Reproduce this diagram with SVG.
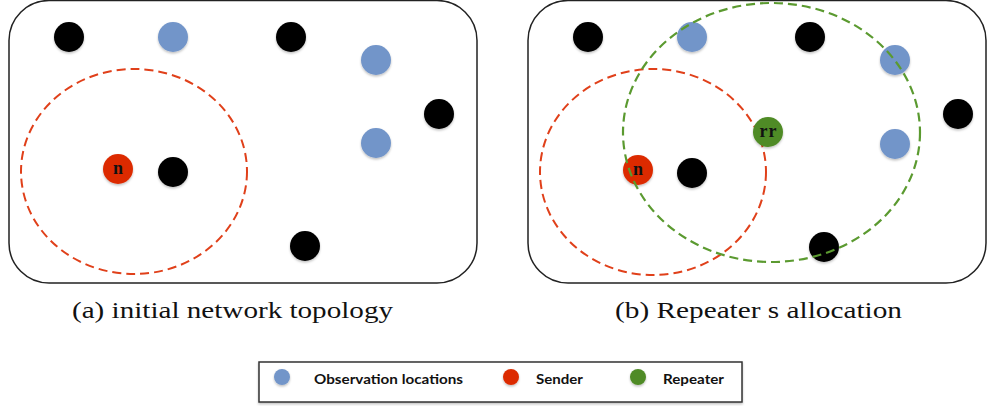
<svg xmlns="http://www.w3.org/2000/svg" width="987" height="406" viewBox="0 0 987 406">
  <defs>
    <filter id="soft" x="-30%" y="-30%" width="160%" height="170%">
      <feDropShadow dx="0" dy="1.5" stdDeviation="1" flood-color="#000" flood-opacity="0.25"/>
    </filter>
  </defs>
  <style>
    .panel { fill: #fff; stroke: #222; stroke-width: 1.5; }
    .black { fill: #000; }
    .obs { fill: #7295c9; }
    .sender { fill: #dc2c00; }
    .rep { fill: #4f8b25; }
    .dot { filter: url(#soft); }
    .range-red { fill: none; stroke: #e0401a; stroke-width: 2; stroke-dasharray: 9 5; }
    .range-green { fill: none; stroke: #5b9a30; stroke-width: 2.2; stroke-dasharray: 9 5; }
    .tag { font-family: "Liberation Serif", "DejaVu Serif", serif; font-weight: bold; font-size: 18px; fill: #111; text-anchor: middle; letter-spacing: 1px; }
    .caption { font-family: "Liberation Serif", "DejaVu Serif", serif; font-size: 24px; fill: #111; }
    .legend-box { fill: #fff; stroke: #333; stroke-width: 1.5; }
    .legend-text { font-family: "Lato", "Open Sans", "Liberation Sans", sans-serif; font-weight: bold; font-size: 14px; fill: #111; }
  </style>

  <!-- panel (a): initial network topology -->
  <g id="panel-a">
    <rect class="panel" x="9" y="0.5" width="468" height="282.5" rx="40" ry="40"/>
  </g>
  <!-- panel (b): repeater allocation -->
  <g id="panel-b">
    <rect class="panel" x="528" y="0.5" width="458" height="282.5" rx="40" ry="40"/>
  </g>

  <!-- sender radio ranges (drawn beneath the nodes) -->
  <g id="connectors">
    <ellipse class="range-red" cx="134" cy="171.5" rx="113" ry="102.5"/>
    <ellipse class="range-red" cx="653" cy="172" rx="113" ry="103"/>
  </g>

  <!-- nodes of panel (a) -->
  <g id="a-b1"><circle class="dot black" cx="69" cy="37" r="15"/></g>
  <g id="a-o1"><circle class="dot obs" cx="173" cy="37" r="15"/></g>
  <g id="a-b2"><circle class="dot black" cx="291" cy="37" r="15"/></g>
  <g id="a-o2"><circle class="dot obs" cx="376" cy="60" r="15"/></g>
  <g id="a-b3"><circle class="dot black" cx="439" cy="114" r="15"/></g>
  <g id="a-o3"><circle class="dot obs" cx="376" cy="143" r="15"/></g>
  <g id="a-sender"><circle class="dot sender" cx="118" cy="169" r="15"/><text class="tag" x="118.5" y="174">n</text></g>
  <g id="a-b4"><circle class="dot black" cx="173" cy="172" r="15"/></g>
  <g id="a-b5"><circle class="dot black" cx="305" cy="246" r="15"/></g>

  <!-- nodes of panel (b) -->
  <g id="b-b1"><circle class="dot black" cx="588" cy="37" r="15"/></g>
  <g id="b-o1"><circle class="dot obs" cx="692" cy="37" r="15"/></g>
  <g id="b-b2"><circle class="dot black" cx="810" cy="37" r="15"/></g>
  <g id="b-o2"><circle class="dot obs" cx="895" cy="60" r="15"/></g>
  <g id="b-b3"><circle class="dot black" cx="958" cy="114" r="15"/></g>
  <g id="b-o3"><circle class="dot obs" cx="895" cy="144" r="15"/></g>
  <g id="b-repeater"><circle class="dot rep" cx="768" cy="132" r="15"/><text class="tag" x="768.5" y="137">rr</text></g>
  <g id="b-sender"><circle class="dot sender" cx="638" cy="170" r="15"/><text class="tag" x="638.5" y="175">n</text></g>
  <g id="b-b4"><circle class="dot black" cx="692" cy="173" r="15"/></g>
  <g id="b-b5"><circle class="dot black" cx="824" cy="247" r="15"/></g>

  <!-- repeater radio range, drawn over the nodes it crosses -->
  <g id="repeater-range">
    <ellipse class="range-green" cx="771.5" cy="132.5" rx="148.5" ry="129.5"/>
  </g>

  <!-- captions -->
  <text class="caption" x="72" y="318" textLength="321" lengthAdjust="spacingAndGlyphs">(a) initial network topology</text>
  <text class="caption" x="615" y="318" textLength="287" lengthAdjust="spacingAndGlyphs">(b) Repeater s allocation</text>

  <!-- legend -->
  <g id="legend">
    <rect class="legend-box" x="259" y="362" width="483" height="40" filter="url(#soft)"/>
    <circle class="dot obs" cx="282" cy="377" r="8"/>
    <text class="legend-text" x="314" y="384" textLength="149" lengthAdjust="spacingAndGlyphs">Observation locations</text>
    <circle class="dot sender" cx="511" cy="377" r="8"/>
    <text class="legend-text" x="536" y="384" textLength="47" lengthAdjust="spacingAndGlyphs">Sender</text>
    <circle class="dot rep" cx="638" cy="377" r="8"/>
    <text class="legend-text" x="663" y="384" textLength="61" lengthAdjust="spacingAndGlyphs">Repeater</text>
  </g>
</svg>
